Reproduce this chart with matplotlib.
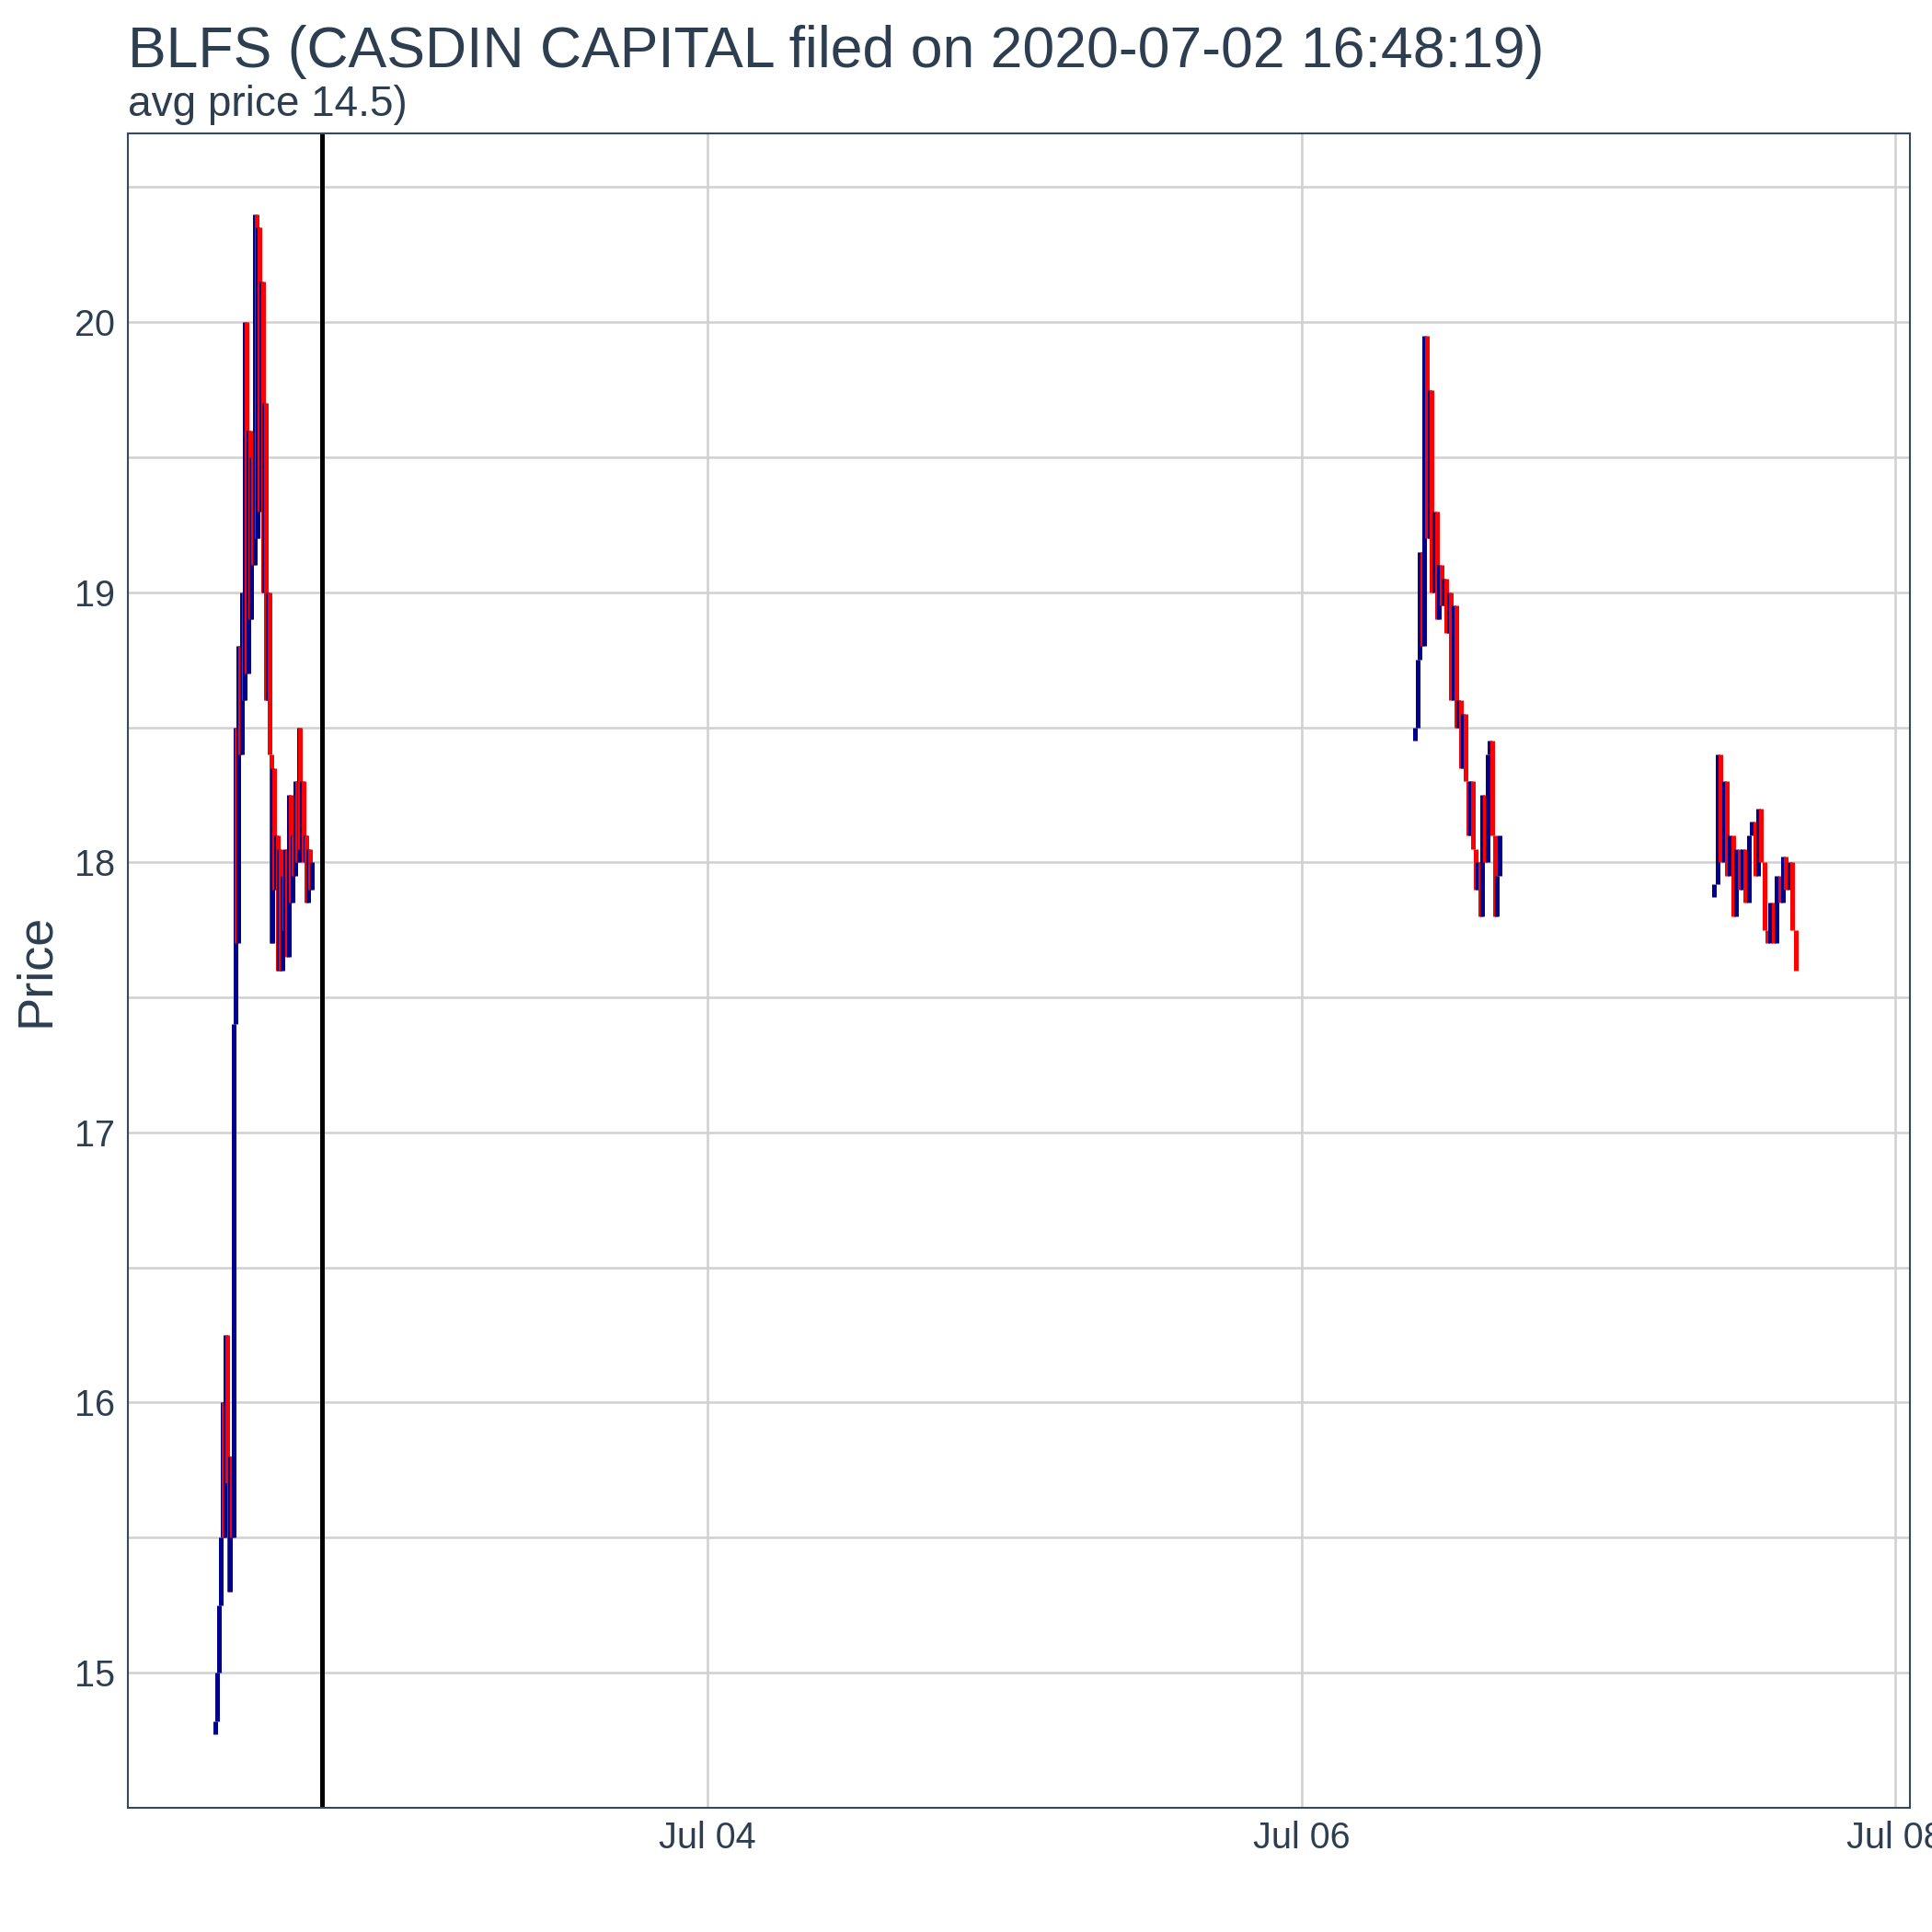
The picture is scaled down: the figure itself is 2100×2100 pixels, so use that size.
import numpy as np
import matplotlib.pyplot as plt
import matplotlib.dates as mdates

plt.rcParams['font.family'] = ['Liberation Sans', 'DejaVu Sans']

# closing prices per session, each bar opens at the previous close
s1_start, s1_end = "2020-07-02 08:15", "2020-07-02 16:00"
s1_close = [14.82, 15.0, 15.25, 15.5, 16.0, 15.5, 16.25, 15.7, 15.3, 15.8, 15.5, 17.4, 18.5, 17.7,
            18.8, 18.4, 19.0, 18.6, 20.0, 18.7, 19.6, 18.9, 19.5, 19.1, 20.4, 19.2, 20.35, 19.3,
            20.15, 19.0, 19.7, 18.6, 19.0, 18.4, 17.7, 18.35, 17.9, 18.1, 17.6, 18.05, 17.6, 17.95,
            17.75, 18.05, 17.65, 18.25, 17.85, 18.1, 17.95, 18.3, 18.0, 18.5, 18.05, 18.3, 18.0,
            18.1, 17.85, 18.05, 17.9, 18.0]
s2_start, s2_end = "2020-07-06 09:10", "2020-07-06 16:00"
s2_close = [18.5, 18.75, 19.15, 18.8, 19.95, 19.2, 19.75, 19.0, 19.3, 18.9, 19.1, 18.95, 19.05,
            18.85, 19.0, 18.6, 18.95, 18.5, 18.6, 18.35, 18.55, 18.3, 18.1, 18.3, 18.05, 17.9,
            18.0, 17.8, 18.25, 18.0, 18.4, 18.45, 18.1, 17.8, 17.95, 18.1]
s3_start, s3_end = "2020-07-07 09:22", "2020-07-07 15:56"
s3_close = [17.92, 18.4, 18.0, 18.3, 17.95, 18.1, 17.8, 18.05, 17.9, 18.05, 17.85, 18.1, 18.15,
            17.95, 18.2, 18.0, 17.75, 17.7, 17.85, 17.7, 17.95, 17.85, 18.02, 17.9, 18.0, 17.75,
            17.6]
filed = "2020-07-02 16:48:19"

UP, DOWN = "#00008B", "#FF0000"
TXT = "#2C3E50"

fig = plt.figure(figsize=(7, 7), dpi=300)
ax = fig.add_axes([0.0663, 0.0644, 0.9222, 0.8667])

for start, end, closes in [(s1_start, s1_end, s1_close), (s2_start, s2_end, s2_close),
                           (s3_start, s3_end, s3_close)]:
    t = np.linspace(mdates.datestr2num(start), mdates.datestr2num(end), len(closes))
    opens = [closes[0] - 0.05] + closes[:-1]
    for ti, o, c in zip(t, opens, closes):
        ax.vlines(ti, o, c, color=UP if c >= o else DOWN, lw=1.2)

ax.axvline(mdates.datestr2num(filed), color="black", lw=1.2)

ax.set_xlim(mdates.datestr2num("2020-07-02 01:10"), mdates.datestr2num("2020-07-08 01:10"))
ax.set_ylim(14.52, 20.7)
ax.xaxis.set_major_locator(mdates.DayLocator(bymonthday=[4, 6, 8]))
ax.xaxis.set_major_formatter(mdates.DateFormatter("%b %d"))
ax.set_yticks([15, 16, 17, 18, 19, 20])
ax.set_yticks(np.arange(14.5, 20.6, 1.0), minor=True)
ax.grid(True, which="major", color="#D0D0D0", lw=0.6)
ax.grid(True, which="minor", axis="y", color="#D0D0D0", lw=0.6)
ax.tick_params(which="both", length=0, labelsize=9.5, colors=TXT)
for s in ax.spines.values():
    s.set_color("#34495E")
    s.set_linewidth(0.5)
ax.set_ylabel("Price", fontsize=13, color=TXT)
ax.set_axisbelow(True)

fig.text(0.0663, 0.965, "BLFS (CASDIN CAPITAL filed on 2020-07-02 16:48:19)", fontsize=15, color=TXT,
         va="baseline")
fig.text(0.0663, 0.94, "avg price 14.5)", fontsize=11, color=TXT, va="baseline")

fig.savefig("out.png", dpi=300)
